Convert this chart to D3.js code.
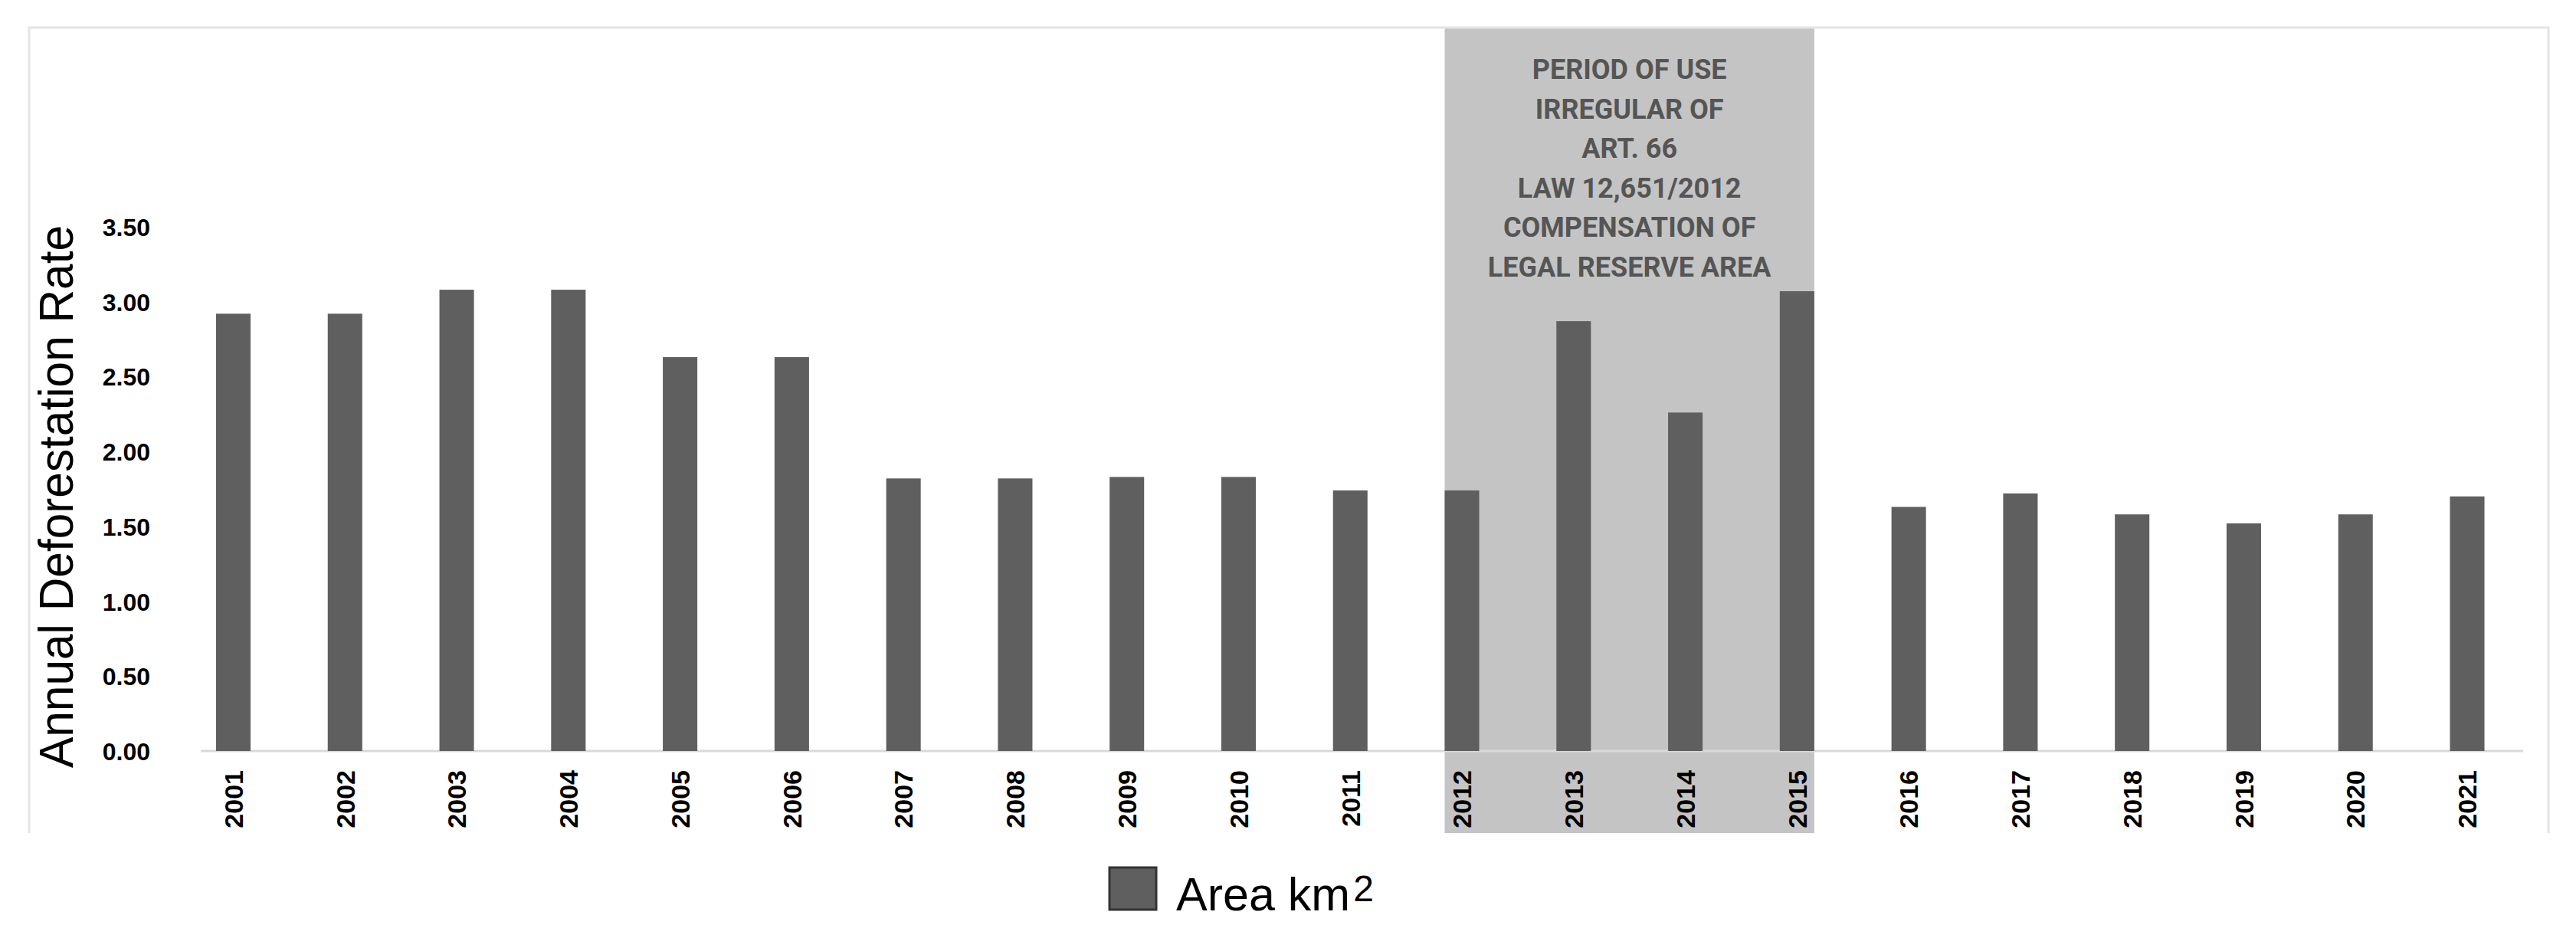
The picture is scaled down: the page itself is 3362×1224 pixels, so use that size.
<html>
    <head>
        <title>Annual Deforestation Rate</title>
        <style>
            body { margin: 0; background: #fff; }
            .tick text { font-family: "Liberation Sans", Arial, sans-serif; font-weight: bold; fill: #000; }
        </style>
    </head>
    <body>
        <svg></svg>

        <script src="https://d3js.org/d3.v7.min.js"></script>
        <script>
            // data
            const years = ["2001", "2002", "2003", "2004", "2005", "2006", "2007", "2008", "2009", "2010", "2011",
                           "2012", "2013", "2014", "2015", "2016", "2017", "2018", "2019", "2020", "2021"];
            const rates = [2.92, 2.92, 3.08, 3.08, 2.63, 2.63, 1.82, 1.82, 1.83, 1.83, 1.74,
                           1.74, 2.87, 2.26, 3.07, 1.63, 1.72, 1.58, 1.52, 1.58, 1.70];
            const yTicks = [0, 0.5, 1, 1.5, 2, 2.5, 3, 3.5];
            const periodYears = ["2012", "2015"];
            const periodLines = ["PERIOD OF USE", "IRREGULAR OF", "ART. 66", "LAW 12,651/2012",
                                 "COMPENSATION OF", "LEGAL RESERVE AREA"];
            const seriesName = "Area km";

            const width = 3362, height = 1224;

            const svg = d3.select("svg")
                .attr("width", width)
                .attr("height", height);

            // chart frame (top, left, right)
            const frame = { left: 38, right: 3326, top: 36, bottom: 1087 };

            // scales
            const x = d3.scaleBand()
                .domain(years)
                .range([231.6, 3292.9])
                .paddingInner(0.691)
                .paddingOuter(0.3455);

            const y = d3.scaleLinear()
                .domain([0, 3.5])
                .range([980, 296]);

            // shaded period behind the bars
            const bx0 = x(periodYears[0]);
            const bx1 = x(periodYears[1]) + x.bandwidth();
            svg.append("rect")
                .attr("x", bx0)
                .attr("y", frame.top)
                .attr("width", bx1 - bx0)
                .attr("height", frame.bottom - frame.top)
                .attr("fill", "#c4c4c4");

            svg.append("path")
                .attr("d", "M" + frame.left + "," + frame.bottom + "V" + frame.top + "H" + frame.right + "V" + frame.bottom)
                .attr("fill", "none")
                .attr("stroke", "#e4e4e4")
                .attr("stroke-width", 3);

            // period text
            const period = svg.append("text")
                .attr("text-anchor", "middle")
                .attr("font-family", "Roboto, sans-serif")
                .attr("font-weight", "bold")
                .attr("font-size", 36)
                .attr("fill", "#555");
            period.selectAll("tspan")
                .data(periodLines)
                .join("tspan")
                .attr("x", (bx0 + bx1) / 2)
                .attr("y", function(d, i) { return 103 + i * 51.5; })
                .text(function(d) { return d; });

            // baseline
            svg.append("line")
                .attr("x1", 262)
                .attr("x2", 3293)
                .attr("y1", y(0))
                .attr("y2", y(0))
                .attr("stroke", "#d9d9d9")
                .attr("stroke-width", 3);

            // bars
            svg.selectAll(".bar")
                .data(rates)
                .join("rect")
                .attr("class", "bar")
                .attr("x", function(d, i) { return x(years[i]); })
                .attr("y", function(d) { return y(d); })
                .attr("width", x.bandwidth())
                .attr("height", function(d) { return y(0) - y(d); })
                .attr("fill", "#5f5f5f");

            // y axis
            const yAxis = svg.append("g")
                .attr("transform", "translate(196,0)")
                .call(d3.axisLeft(y).tickValues(yTicks).tickFormat(d3.format(".2f")).tickSize(0).tickPadding(0));
            yAxis.select(".domain").remove();
            yAxis.selectAll("text")
                .attr("font-size", 32)
                .attr("dy", "0.36em");

            // x axis
            const xAxis = svg.append("g")
                .attr("transform", "translate(0," + y(0) + ")")
                .call(d3.axisBottom(x).tickSize(0).tickPadding(0));
            xAxis.select(".domain").remove();
            xAxis.selectAll("text")
                .attr("font-size", 34)
                .attr("transform", "rotate(-90)")
                .attr("text-anchor", "end")
                .attr("x", -25)
                .attr("y", 0)
                .attr("dy", "0.36em");

            // y axis title
            svg.append("text")
                .attr("transform", "translate(95,648) rotate(-90)")
                .attr("text-anchor", "middle")
                .attr("font-family", "Liberation Sans, Arial, sans-serif")
                .attr("font-size", 63)
                .attr("textLength", 708)
                .attr("lengthAdjust", "spacingAndGlyphs")
                .attr("fill", "#000")
                .text("Annual Deforestation Rate");

            // legend
            const legend = svg.append("g");
            legend.append("rect")
                .attr("x", 1448)
                .attr("y", 1132)
                .attr("width", 61)
                .attr("height", 55)
                .attr("fill", "#5f5f5f")
                .attr("stroke", "#333")
                .attr("stroke-width", 3);
            const lt = legend.append("text")
                .attr("x", 1535)
                .attr("y", 1188)
                .attr("font-family", "Liberation Sans, Arial, sans-serif")
                .attr("font-size", 61)
                .attr("fill", "#000");
            lt.append("tspan").text(seriesName);
            lt.append("tspan")
                .attr("dx", 4)
                .attr("dy", -12)
                .attr("font-size", 48)
                .text("2");
        </script>
    </body>
</html>
